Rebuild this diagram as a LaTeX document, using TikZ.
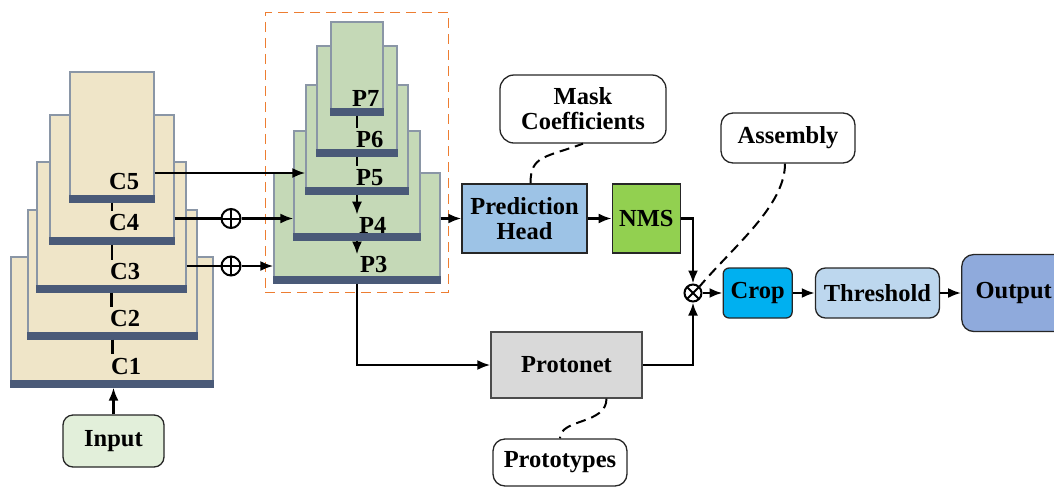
\documentclass[tikz,border=0pt]{standalone}
\usepackage{fontspec}
\setmainfont{Liberation Serif}
\usetikzlibrary{arrows.meta,positioning,fit}
\definecolor{paper}{HTML}{EFE5C8}
\definecolor{sage}{HTML}{C5D9B7}
\definecolor{barcol}{HTML}{4A5A78}
\definecolor{edgecol}{HTML}{8A96A6}
\definecolor{frameor}{HTML}{ED7D31}
\definecolor{inputg}{HTML}{E2EFDA}
\definecolor{headb}{HTML}{9DC3E6}
\definecolor{nmsg}{HTML}{92D050}
\definecolor{cropb}{HTML}{00B0F0}
\definecolor{thrb}{HTML}{BDD7EE}
\definecolor{outb}{HTML}{8FAADC}
\definecolor{protog}{HTML}{D9D9D9}

\begin{document}
\begin{tikzpicture}[x=1pt,y=-1pt,font=\fontsize{24.5}{25}\selectfont\bfseries,
  fmap/.style={draw=edgecol,line width=1.2pt,inner sep=0pt},
  lab/.style={inner sep=0pt,anchor=west},
  box/.style={draw=black!85,line width=1.3pt,align=center,inner sep=0pt},
  rbox/.style={box,rounded corners=10pt},
  arr/.style={-{Latex[length=13pt,width=10pt]},line width=2.4pt},
  link/.style={line width=2.4pt},
  hint/.style={dash pattern=on 10pt off 6pt,line width=2pt},
  op/.style={circle,draw,line width=2pt,minimum size=19pt,inner sep=0pt},
  plus/.style={op,path picture={\draw[line width=2pt]
    (path picture bounding box.north) -- (path picture bounding box.south)
    (path picture bounding box.west) -- (path picture bounding box.east);}},
  times/.style={op,path picture={\draw[line width=2pt]
    (path picture bounding box.north west) -- (path picture bounding box.south east)
    (path picture bounding box.north east) -- (path picture bounding box.south west);}}]
  \clip (0,0) rectangle (1054,488);

  % backbone C1..C5
  \foreach \nm/\xa/\ya/\xb/\yb/\lx/\ly/\tx in {c1/11/257/213/387/111/366/C1,
      c2/28/210/197/339/110/319/C2,c3/37/162/186/292/110/272/C3,
      c4/50/115/174/244/109/223/C4,c5/70/72/154/202/109/182/C5}{
    \node[fmap,fill=paper,minimum width={(\xb-\xa)*1pt},minimum height={(\yb-\ya)*1pt}]
      (\nm) at ({(\xa+\xb)/2},{(\ya+\yb)/2}) {};
    \fill[barcol] ([yshift=8pt]\nm.south west) rectangle (\nm.south east);
    \node[lab] (l\nm) at (\lx,\ly) {\tx};
  }
  % FPN P3..P7
  \foreach \nm/\xa/\ya/\xb/\yb/\lx/\ly/\tx in {p3/274/173/440/283/360/265/P3,
      p4/294/131/420/240/359/225/P4,p5/306/85/408/194/356/178/P5,
      p6/317/46/397/156/356/140/P6,p7/331/22/383/115/352/98/P7}{
    \node[fmap,fill=sage,minimum width={(\xb-\xa)*1pt},minimum height={(\yb-\ya)*1pt}]
      (\nm) at ({(\xa+\xb)/2},{(\ya+\yb)/2}) {};
    \fill[barcol] ([yshift=8pt]\nm.south west) rectangle (\nm.south east);
    \node[lab] (l\nm) at (\lx,\ly) {\tx};
  }
  \node[draw=frameor,dash pattern=on 10pt off 6pt,line width=1.4pt,fit=(p3)(p7),
    inner xsep=8pt,inner ysep=9pt] (fpn) {};

  \foreach \a/\b in {c5/c4,c4/c3,c3/c2,c2/c1,p7/p6,p6/p5}
    \draw[link,shorten >=4pt] (\a.south) -- (\a.south |- l\b.north);
  \foreach \a/\b in {p5/p4,p4/p3}
    \draw[arr,shorten >=2pt] (\a.south) -- (\a.south |- l\b.north);

  \node[rbox,fill=inputg,minimum width=101pt,minimum height=52pt] (input) at (113.5,441) {Input};
  \node[plus] (s4) at (231,218.5) {};
  \node[plus] (s3) at (231,266) {};
  \coordinate (r5) at (0,173);

  \node[box,fill=headb,minimum width=125pt,minimum height=69pt] (ph) at (524.5,218.5) {Prediction\\Head};
  \node[box,fill=nmsg,minimum width=68pt,minimum height=69pt,right=24pt of ph] (nms) {NMS};
  \node[rbox,rounded corners=14pt,minimum width=166pt,minimum height=68pt] (mask) at (583,109) {Mask\\Coefficients};
  \node[rbox,rounded corners=12pt,minimum width=134pt,minimum height=50pt] (asm) at (788,138) {Assembly};
  \node[times,minimum size=17pt] (mul) at (693,293) {};
  \node[rbox,rounded corners=6pt,fill=cropb,minimum width=69pt,minimum height=50pt,right=20pt of mul] (crop) {Crop};
  \node[rbox,fill=thrb,minimum width=124pt,minimum height=50pt,right=22pt of crop] (thr) {Threshold};
  \node[rbox,rounded corners=12pt,fill=outb,minimum width=104pt,minimum height=77pt,right=21pt of thr] (out) {Output};
  \node[box,draw=black!70,fill=protog,minimum width=151pt,minimum height=66pt] (pn) at (566.5,365) {Protonet};
  \node[rbox,rounded corners=12pt,minimum width=134pt,minimum height=47pt] (proto) at (560,462.5) {Prototypes};

  \draw[arr] (input.north) -- (input.north |- c1.south);
  \draw[arr] (c5.east |- r5) -- (p5.west |- r5);
  \draw[link] (c4.east |- s4) -- (s4);
  \draw[arr] (s4) -- (p4.west |- s4);
  \draw[link] (c3.east |- s3) -- (s3);
  \draw[arr] (s3) -- (p3.west |- s3);
  \draw[arr] (p3.east |- ph) -- (ph.west);
  \draw[arr] (ph) -- (nms);
  \draw[arr] (nms.east) -| (mul);
  \draw[arr] (p3.south) |- (pn.west);
  \draw[arr] (pn.east) -| (mul);
  \draw[arr] (mul) -- (crop);
  \draw[arr] (crop) -- (thr);
  \draw[arr] (thr) -- (out);

  \draw[hint] ([xshift=6pt]ph.north) .. controls +(0,-28) and +(-38,14) .. (mask.south);
  \draw[hint] ([xshift=-3pt]asm.south) .. controls +(0,42) and +(34,-40) .. (mul.north east);
  \draw[hint] ([xshift=40pt]pn.south) .. controls +(0,26) and +(0,-20) .. (proto.north);
\end{tikzpicture}
\end{document}
